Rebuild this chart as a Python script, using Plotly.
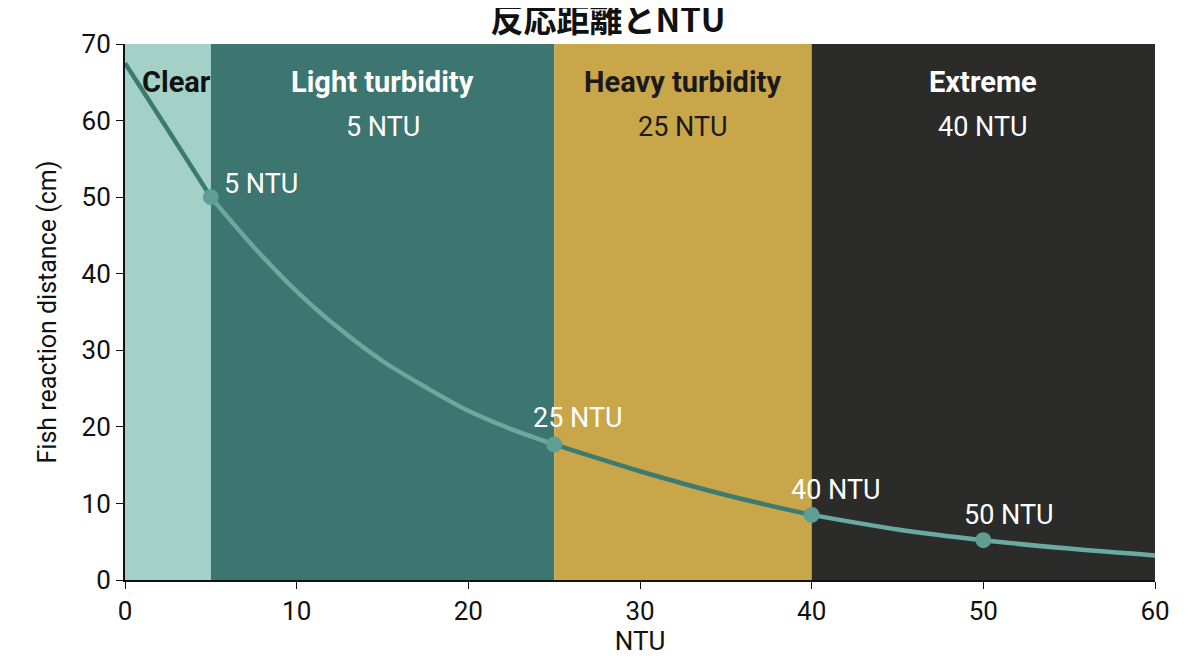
import plotly.graph_objects as go

# curve
ntu = [0, 2.5, 5, 7.5, 10, 12.5, 15, 17.5, 20, 22.5, 25, 30, 35, 40, 45, 50, 55, 60]
reaction = [67.5, 58.8, 50, 43.5, 37.7, 32.8, 28.6, 25.2, 22.1, 19.7, 17.7, 14.2, 11.1, 8.5, 6.6, 5.2, 4.1, 3.2]

# highlighted points
mark_ntu = [5, 25, 40, 50]
mark_val = [50, 17.7, 8.5, 5.2]
mark_text = ["5 NTU", "25 NTU", "40 NTU", "50 NTU"]

# turbidity bands
band_start = [0, 5, 25, 40]
band_end = [5, 25, 40, 60]
band_name = ["Clear", "Light turbidity", "Heavy turbidity", "Extreme"]
band_sub = ["", "5 NTU", "25 NTU", "40 NTU"]
band_fill = ["#a3d1c8", "#3d7571", "#c9a64a", "#2b2b2a"]
band_text = ["#111111", "#ffffff", "#1a1a1a", "#ffffff"]
line_col = ["#3b7a72", "#6aa99d", "#3c7b72", "#6aab9f"]

fig = go.Figure()

for x0, x1, c in zip(band_start, band_end, band_fill):
    fig.add_shape(type="rect", x0=x0, x1=x1, y0=0, y1=70, xref="x", yref="y",
                  fillcolor=c, line_width=0, layer="below")

# curve drawn band by band so the colour changes like the original
for x0, x1, c in zip(band_start, band_end, line_col):
    xs = [x for x in ntu if x0 <= x <= x1]
    ys = [y for x, y in zip(ntu, reaction) if x0 <= x <= x1]
    fig.add_trace(go.Scatter(x=xs, y=ys, mode="lines", line=dict(color=c, width=4.5, shape="spline"),
                             hoverinfo="skip", showlegend=False))

fig.add_trace(go.Scatter(x=mark_ntu, y=mark_val, mode="markers",
                         marker=dict(color="#5e9e93", size=16), showlegend=False))

# point labels
offsets = [(0.65, 1.7, "left"), (1.4, 3.5, "center"), (1.4, 3.2, "center"), (1.5, 3.3, "center")]
for x, y, t, (dx, dy, al) in zip(mark_ntu, mark_val, mark_text, offsets):
    fig.add_annotation(x=x + dx, y=y + dy, text=t, showarrow=False, xanchor=al,
                       font=dict(color="white", size=27, family="Roboto"))

# band labels
for x0, x1, n, s, tc in zip(band_start, band_end, band_name, band_sub, band_text):
    xc = (x0 + x1) / 2
    fig.add_annotation(x=xc if n != "Clear" else 3.0, y=65.0, text="<b>" + n + "</b>", showarrow=False,
                       font=dict(color=tc, size=29, family="Roboto"))
    if s:
        fig.add_annotation(x=xc, y=59.2, text=s, showarrow=False,
                           font=dict(color=tc, size=27, family="Roboto"))

fig.update_layout(
    width=1200, height=670,
    margin=dict(l=117, r=53, t=36, b=98),
    plot_bgcolor="white", paper_bgcolor="white",
    font=dict(family="Roboto", color="#111111"),
    title=dict(text="<b>反応距離とNTU</b>", x=0.5, y=0.981, xanchor="center", yanchor="middle",
               font=dict(size=33, family="Noto Sans CJK JP", color="#111111")),
    xaxis=dict(range=[0, 60], dtick=10, showgrid=False, zeroline=False,
               showline=True, linecolor="#111111", linewidth=2, ticks="outside", ticklen=7,
               tickcolor="#111111", tickfont=dict(size=26), title=dict(text="NTU", font=dict(size=26), standoff=4)),
    yaxis=dict(range=[0, 70], dtick=10, showgrid=False, zeroline=False,
               showline=True, linecolor="#111111", linewidth=2, ticks="outside", ticklen=7,
               tickcolor="#111111", tickfont=dict(size=26),
               title=dict(text="Fish reaction distance (cm)", font=dict(size=25), standoff=18)),
)

fig.write_html("out.html")
